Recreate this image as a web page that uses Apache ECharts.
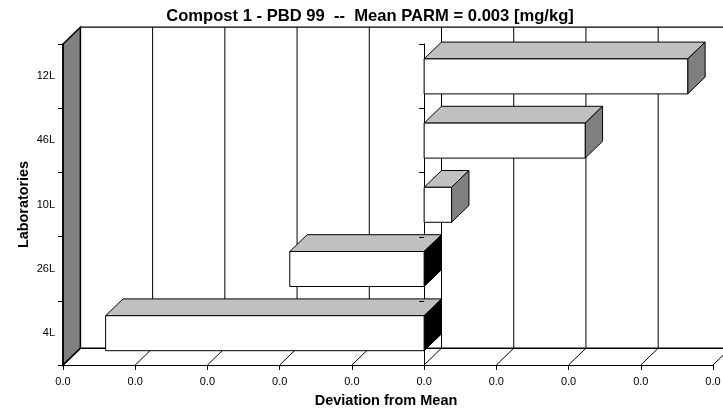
<!DOCTYPE html>
<html><head><meta charset="utf-8">
<style>html,body{margin:0;padding:0;background:#fff}#c{width:723px;height:411px}</style>
<script src="https://cdn.jsdelivr.net/npm/echarts@6/dist/echarts.min.js"></script>
</head><body><div id="c"></div>
<script>
const categories = ['4L','26L','10L','46L','12L'];
const deviations = [-0.00441,-0.00186,0.00038,0.00223,0.00365];
const xTicks = [-0.005,-0.004,-0.003,-0.002,-0.001,0,0.001,0.002,0.003,0.004];
const xTickLabels = ['0.0','0.0','0.0','0.0','0.0','0.0','0.0','0.0','0.0','0.0'];
const titleText = 'Compost 1 - PBD 99  --  Mean PARM = 0.003 [mg/kg]';
const DX = 17.4, DY = -16.8, BAR_RATIO = 0.545, TICK = 5;
const FONT = '"Liberation Sans", Arial, sans-serif';
const chart = echarts.init(document.getElementById('c'), null, {renderer:'canvas'});
const line = (x1,y1,x2,y2,w)=>({type:'line',shape:{x1,y1,x2,y2},style:{stroke:'#000',lineWidth:w||1,fill:null}});
const poly = (points,fill,w)=>({type:'polygon',shape:{points},style:{fill,stroke:'#000',lineWidth:w||1}});
function backdrop(params, api){
  const g = params.coordSys;
  const l=g.x,t=g.y,b=g.y+g.height,r=g.x+g.width;
  return {type:'group',children:[
    poly([[l,t],[l+DX,t+DY],[l+DX,b+DY],[l,b]],'#808080',1.5),
    line(l+DX,t+DY,r+DX,t+DY,1.2),
    line(l+DX,b+DY,r+DX,b+DY,1.4),
    line(l,b,l+DX,b+DY,1.2)
  ]};
}
function gridItem(params, api){
  const g = params.coordSys;
  const x = api.coord([api.value(0),0])[0];
  const t=g.y,b=g.y+g.height;
  return {type:'group',children:[
    line(x+DX,t+DY,x+DX,b+DY,1),
    line(x,b,x+DX,b+DY,1)
  ]};
}
function barItem(params, api){
  const v = api.value(0), idx = api.value(1);
  const a = api.coord([0,idx]), e = api.coord([v,idx]);
  const h = api.size([0,1])[1]*BAR_RATIO;
  const x0 = Math.min(a[0],e[0]), x1 = Math.max(a[0],e[0]);
  const y0 = a[1]-h/2+0.3, y1 = a[1]+h/2+0.3;
  return {type:'group',children:[
    poly([[x0,y0],[x0+DX,y0+DY],[x1+DX,y0+DY],[x1,y0]],'#C0C0C0'),
    poly([[x1,y0],[x1+DX,y0+DY],[x1+DX,y1+DY],[x1,y1]], v<0?'#000000':'#808080'),
    poly([[x0,y0],[x1,y0],[x1,y1],[x0,y1]],'#FFFFFF')
  ]};
}
// Tick marks of the category axis that crosses at zero; they sit above the bars.
function zeroTick(params, api){
  const p = api.coord([0,api.value(1)]);
  const y = Math.round(p[1]-api.size([0,1])[1]/2)+0.5;
  return line(p[0]-TICK,y,p[0],y,1);
}
const labelColor='#000';
chart.setOption({
  animation:false,
  backgroundColor:'#fff',
  title:{text:titleText,left:365,top:3,textAlign:'center',textStyle:{fontFamily:FONT,fontSize:16.6,fontWeight:'bold',color:'#000'}},
  grid:{left:63,right:10,top:44,bottom:46,containLabel:false,outerBoundsMode:'none'},
  xAxis:{type:'value',min:xTicks[0],max:xTicks[xTicks.length-1],interval:0.001,z:1,
    name:'Deviation from Mean',nameLocation:'middle',nameGap:28,
    nameTextStyle:{fontFamily:FONT,fontSize:14.5,fontWeight:'bold',color:'#000',padding:[0,4,0,0]},
    axisLine:{show:true,onZero:false,lineStyle:{color:'#000',width:1}},
    axisTick:{show:true,length:5,lineStyle:{color:'#000'}},
    splitLine:{show:false},
    axisLabel:{fontFamily:FONT,fontSize:11,color:labelColor,margin:11,showMinLabel:true,showMaxLabel:true,hideOverlap:false,
      formatter:(v,i)=>xTickLabels[i]}
  },
  yAxis:[
    {type:'category',data:categories,z:1,position:'left',
     name:'Laboratories',nameLocation:'middle',nameGap:32,nameMoveOverlap:false,
     nameTextStyle:{fontFamily:FONT,fontSize:14.4,fontWeight:'bold',color:'#000'},
     axisLine:{show:true,onZero:false,lineStyle:{color:'#000',width:1.5}},
     axisTick:{show:true,length:5,alignWithLabel:false,lineStyle:{color:'#000'}},
     axisLabel:{fontFamily:FONT,fontSize:11,color:labelColor,margin:8,padding:[2,0,0,0]},splitLine:{show:false}},
    {type:'category',data:categories,z:1,position:'left',
     axisLine:{show:true,onZero:true,lineStyle:{color:'#000',width:1}},
     axisTick:{show:false},axisLabel:{show:false},splitLine:{show:false}}
  ],
  series:[
    {type:'custom',z:0,silent:true,coordinateSystem:'cartesian2d',renderItem:gridItem,data:xTicks.map(v=>[v,0]),encode:{x:0,y:1}},
    {type:'custom',z:0,silent:true,coordinateSystem:'cartesian2d',renderItem:backdrop,data:[[xTicks[0],0]],encode:{x:0,y:1}},
    {type:'custom',z:3,silent:true,coordinateSystem:'cartesian2d',renderItem:barItem,data:deviations.map((v,i)=>[v,i]),encode:{x:0,y:1}},
    {type:'custom',z:6,silent:true,coordinateSystem:'cartesian2d',renderItem:zeroTick,data:categories.map((c,i)=>[0,i]),encode:{x:0,y:1}}
  ]
});
</script></body></html>
